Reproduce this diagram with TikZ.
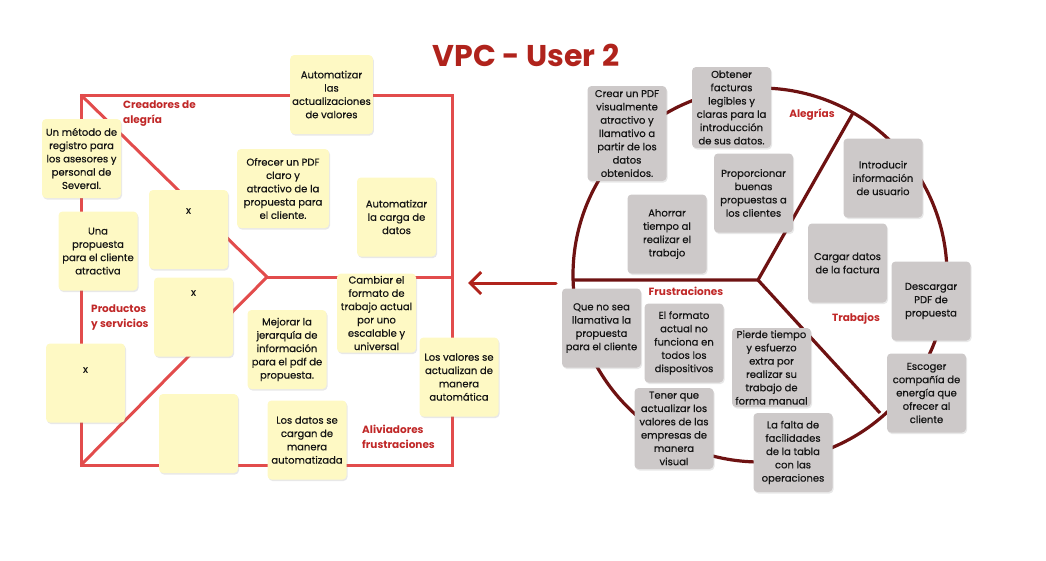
\documentclass[tikz,border=0pt]{standalone}
\usepackage{fontspec}
\setmainfont{Poppins}
\newfontfamily\notefont{Poppins}[FakeBold=0.5]
\usetikzlibrary{arrows.meta,shadows}
\definecolor{sqred}{RGB}{226,76,76}
\definecolor{circred}{RGB}{110,18,18}
\definecolor{titred}{RGB}{176,35,28}
\definecolor{labred}{RGB}{192,40,40}
\definecolor{ynote}{RGB}{254,249,196}
\definecolor{gnote}{RGB}{205,201,201}
\definecolor{ntext}{RGB}{20,20,20}
\tikzset{
  note/.style={rounded corners=4pt, minimum width=79pt, minimum height=79pt, inner sep=2pt,
    align=center, text=ntext, font=\notefont\fontsize{10}{13.3}\selectfont,
    drop shadow={opacity=0.18, shadow xshift=1pt, shadow yshift=-1.5pt}},
  ynotebox/.style={note, fill=ynote},
  gnotebox/.style={note, fill=gnote},
  xmark/.style={text=ntext, font=\notefont\fontsize{10}{13}\selectfont},
  seclabel/.style={text=labred, font=\bfseries\fontsize{10.5}{15}\selectfont, align=left, inner sep=0pt},
  seclabelc/.style={text=labred, font=\bfseries\fontsize{10.5}{15}\selectfont, inner sep=0pt},
  sqline/.style={draw=sqred, line width=3pt},
  circline/.style={draw=circred, line width=3.2pt},
}
\begin{document}
\begin{tikzpicture}[x=1pt,y=-1pt]
\useasboundingbox (0,0) rectangle (1046,560);
% title
\node[text=titred, font=\bfseries\fontsize{30}{34}\selectfont] (title) at (526,55) {VPC - User 2};

% ---------- square ----------
\coordinate (tl) at (81,95);
\coordinate (tr) at (452,95);
\coordinate (br) at (452,465);
\coordinate (bl) at (81,465);
\coordinate (chev) at (267,277);
\coordinate (rmid) at (452,277);
\draw[sqline] (tl) -- (tr) -- (br) -- (bl) -- cycle;
\draw[sqline] (tl) -- (chev) -- (bl);
\draw[sqline] (chev) -- (rmid);

% ---------- circle ----------
\coordinate (cc) at (760,275);
\coordinate (jn) at (758,280);
\coordinate (cleft) at (573,280);
\coordinate (cup) at (853,113);
\coordinate (cdown) at (880,413);
\draw[circline] (cc) circle (187);
\draw[circline] (cleft) -- (jn) -- (cup);
\draw[circline] (jn) -- (cdown);

% ---------- arrow ----------
\coordinate (arrS) at (556,283);
\coordinate (arrE) at (468,283);
\draw[draw=titred, line width=3pt, line cap=round, -{Straight Barb[length=11pt,width=22pt,line width=3pt]}] (arrS) -- (arrE);

% ---------- left notes ----------
\node[ynotebox] (L1) at (81.5,158.5) {Un método de\\registro para\\los asesores y\\personal de\\Several.};
\node[ynotebox] (L2) at (98,251) {Una\\propuesta\\para el cliente\\atractiva};
\node[ynotebox] (L3) at (188.5,229.5) {};
\node[xmark] (L3x) at (188.5,211) {x};
\node[ynotebox] (L4) at (193.5,317) {};
\node[xmark] (L4x) at (193.5,293) {x};
\node[ynotebox] (L5) at (85.5,383) {};
\node[xmark] (L5x) at (85.5,370) {x};
\node[ynotebox] (L6) at (198.5,433.5) {};
\node[ynotebox] (L7) at (307,440) {Los datos se\\cargan de\\manera\\automatizada};
\node[ynotebox] (L8) at (287,349.5) {Mejorar la\\jerarquía de\\información\\para el pdf de\\propuesta.};
\node[ynotebox] (L9) at (376.5,313) {Cambiar el\\formato de\\trabajo actual\\por uno\\escalable y\\universal};
\node[ynotebox] (L10) at (459,377) {Los valores se\\actualizan de\\manera\\automática};
\node[ynotebox] (L11) at (331.5,94.5) {Automatizar\\las\\actualizaciones\\de valores};
\node[ynotebox, minimum width=92pt] (L12) at (283,188.5) {Ofrecer un PDF\\claro y\\atractivo de la\\propuesta para\\el cliente.};
\node[ynotebox] (L13) at (396.5,217) {Automatizar\\la carga de\\datos};

% left labels
\node[seclabel, anchor=north west] (lab1) at (123,101) {Creadores de\\alegría};
\node[seclabel, anchor=north west] (lab2) at (91,305) {Productos\\y servicios};
\node[seclabel, anchor=north west] (lab3) at (362,425) {Aliviadores\\frustraciones};

% ---------- right notes ----------
\node[gnotebox, minimum height=95pt] (R1) at (627,133.5) {Crear un PDF\\visualmente\\atractivo y\\llamativo a\\partir de los\\datos\\obtenidos.};
\node[gnotebox, minimum height=81pt] (R2) at (731.5,107.5) {Obtener\\facturas\\legibles y\\claras para la\\introducción\\de sus datos.};
\node[gnotebox] (R3) at (753.5,193) {Proporcionar\\buenas\\propuestas a\\los clientes};
\node[gnotebox] (R4) at (667,234) {Ahorrar\\tiempo al\\realizar el\\trabajo};
\node[gnotebox] (R5) at (883,178) {Introducir\\información\\de usuario};
\node[gnotebox] (R6) at (847.5,263) {Cargar datos\\de la factura};
\node[gnotebox] (R7) at (931,301) {Descargar\\PDF de\\propuesta};
\node[gnotebox] (R8) at (926.5,393) {Escoger\\compañía de\\energía que\\ofrecer al\\cliente};
\node[gnotebox] (R9) at (601.5,328) {Que no sea\\llamativa la\\propuesta\\para el cliente};
\node[gnotebox] (R10) at (684,343) {El formato\\actual no\\funciona en\\todos los\\dispositivos};
\node[gnotebox] (R11) at (771.5,367.5) {Pierde tiempo\\y esfuerzo\\extra por\\realizar su\\trabajo de\\forma manual};
\node[gnotebox, minimum height=81pt] (R12) at (674,428.5) {Tener que\\actualizar los\\valores de las\\empresas de\\manera\\visual};
\node[gnotebox] (R13) at (793,452.5) {La falta de\\facilidades\\de la tabla\\con las\\operaciones};

% right labels
\node[seclabelc] (rl1) at (812,115) {Alegrías};
\node[seclabelc] (rl2) at (686,291) {Frustraciones};
\node[seclabelc] (rl3) at (856,319) {Trabajos};
\end{tikzpicture}
\end{document}
